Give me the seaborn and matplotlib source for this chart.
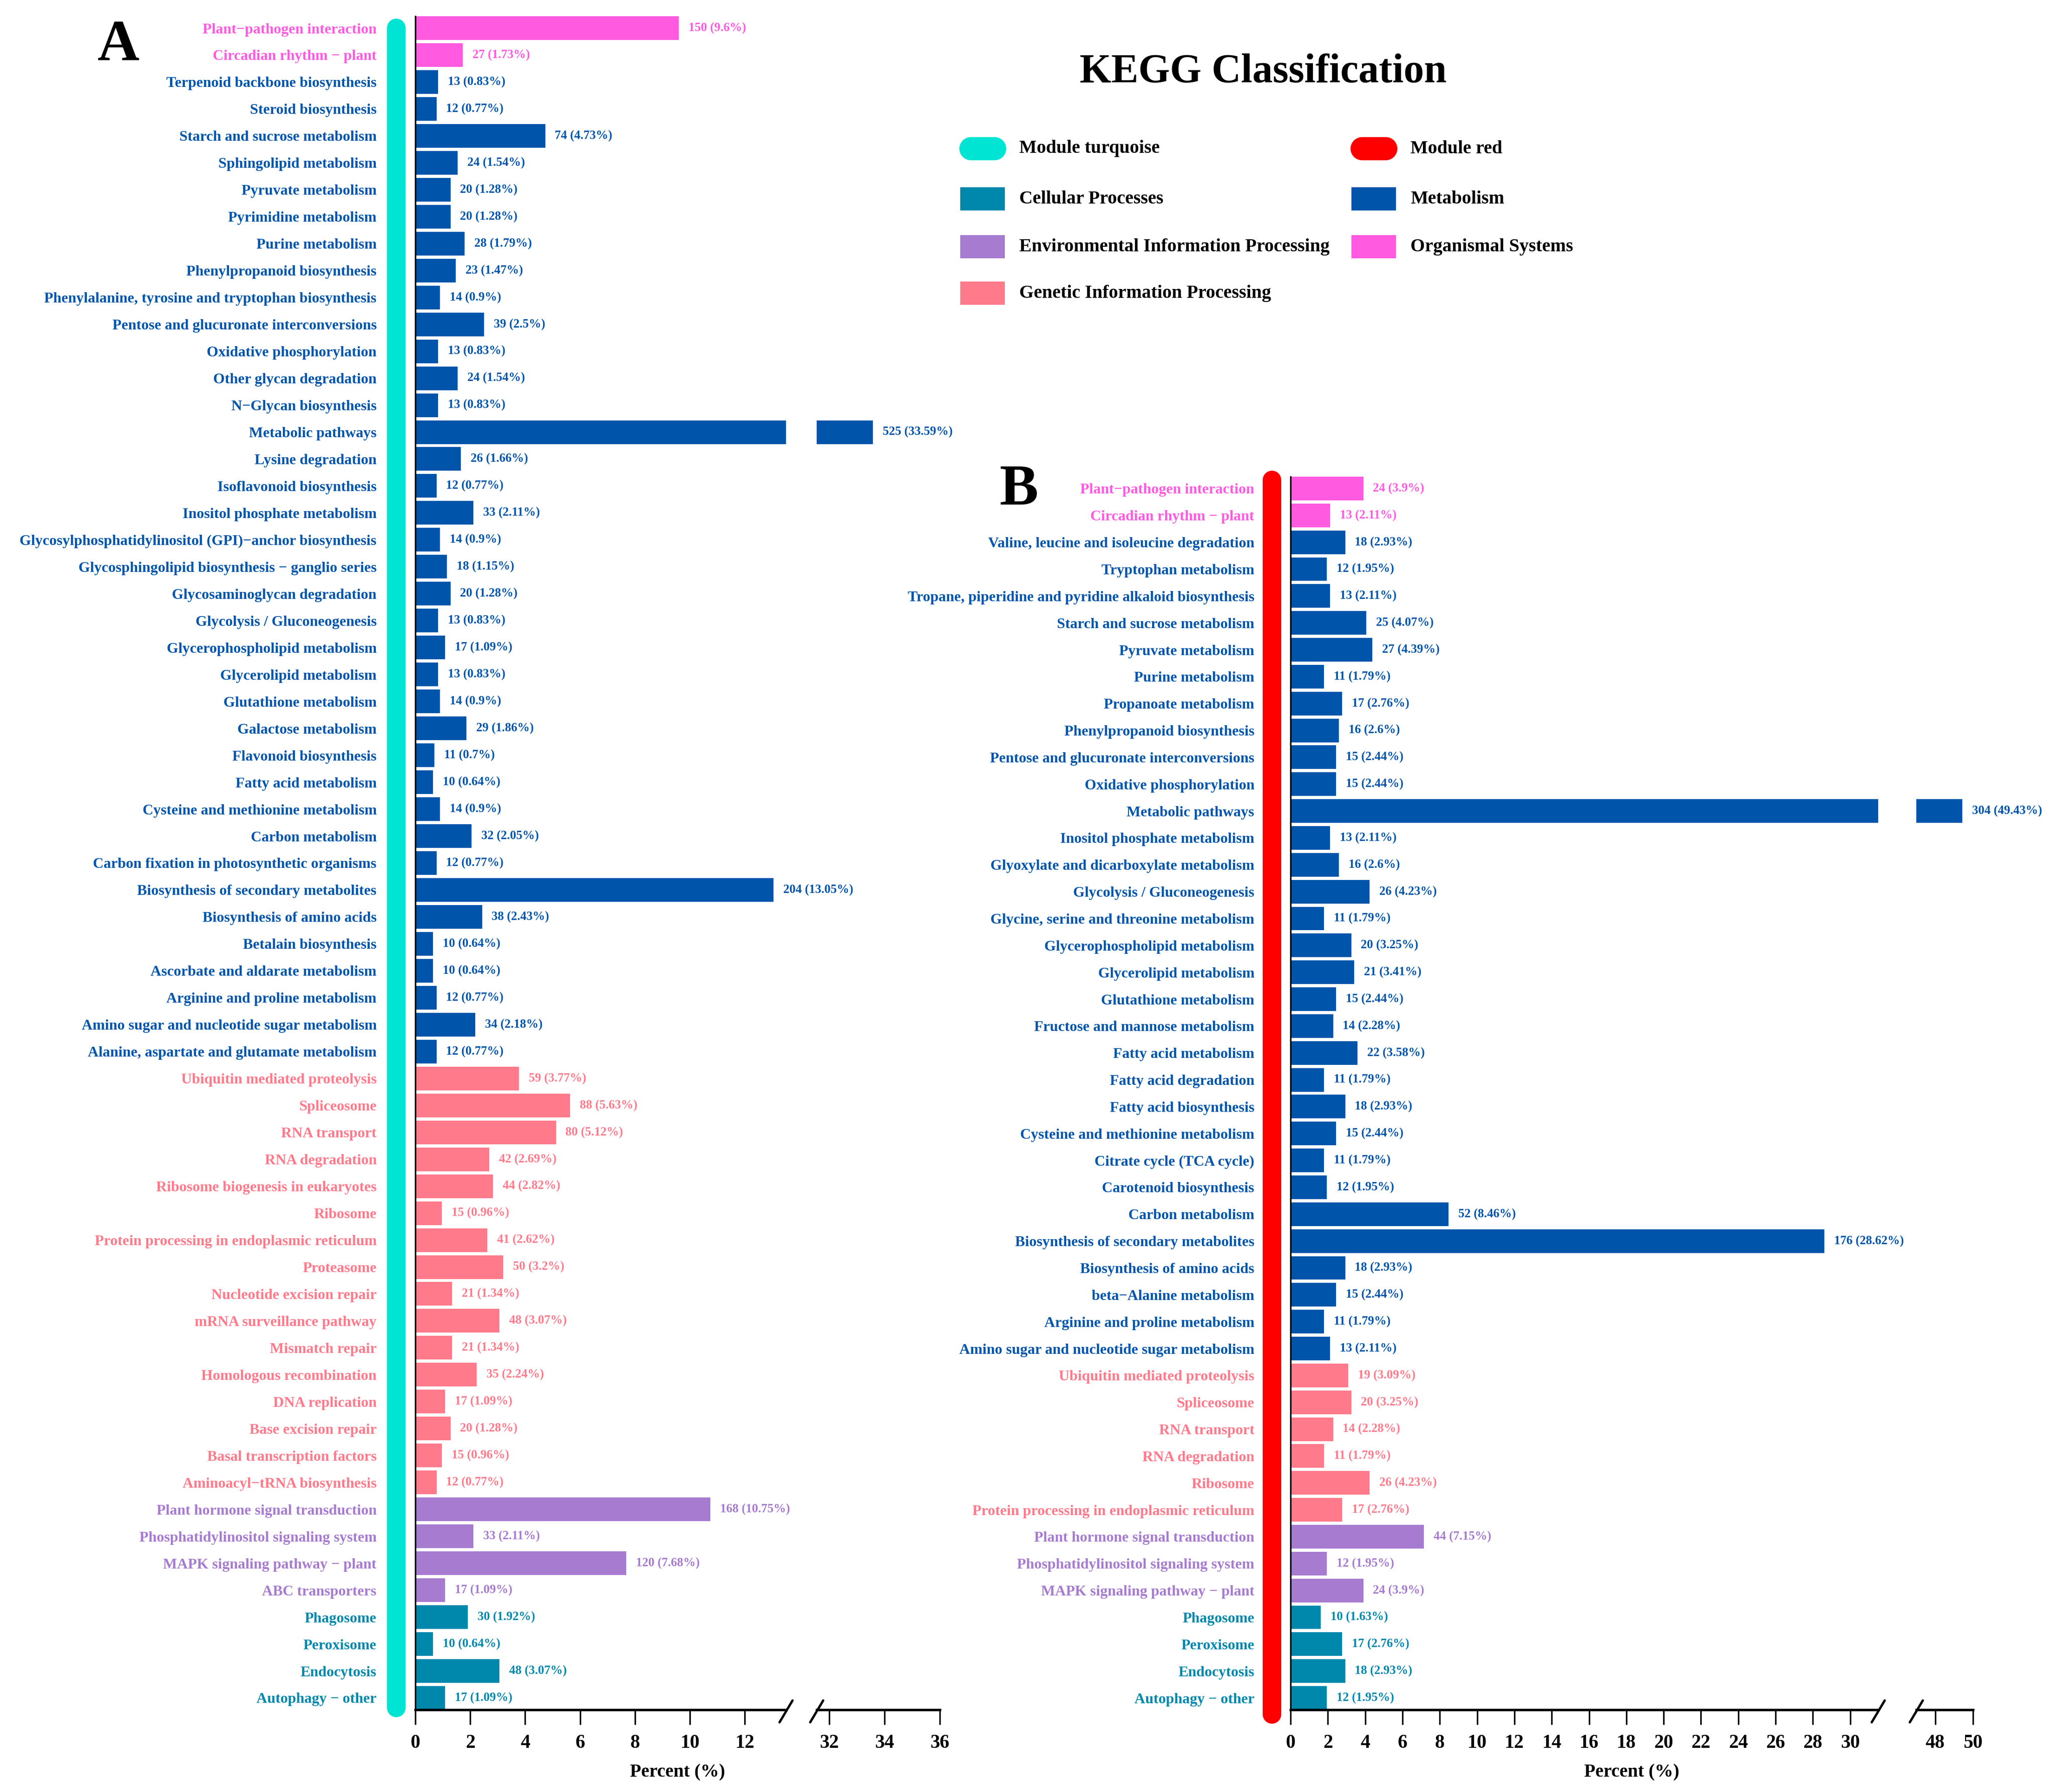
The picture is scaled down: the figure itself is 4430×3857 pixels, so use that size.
import pandas as pd
import matplotlib
matplotlib.use("Agg")
import matplotlib.pyplot as plt
from matplotlib.lines import Line2D
from matplotlib.patches import Rectangle
import seaborn as sns

# ---- panel A (module turquoise) ----
a_terms = [
    "Plant−pathogen interaction", "Circadian rhythm − plant",
    "Terpenoid backbone biosynthesis", "Steroid biosynthesis", "Starch and sucrose metabolism",
    "Sphingolipid metabolism", "Pyruvate metabolism", "Pyrimidine metabolism", "Purine metabolism",
    "Phenylpropanoid biosynthesis", "Phenylalanine, tyrosine and tryptophan biosynthesis",
    "Pentose and glucuronate interconversions", "Oxidative phosphorylation", "Other glycan degradation",
    "N−Glycan biosynthesis", "Metabolic pathways", "Lysine degradation", "Isoflavonoid biosynthesis",
    "Inositol phosphate metabolism", "Glycosylphosphatidylinositol (GPI)−anchor biosynthesis",
    "Glycosphingolipid biosynthesis − ganglio series", "Glycosaminoglycan degradation",
    "Glycolysis / Gluconeogenesis", "Glycerophospholipid metabolism", "Glycerolipid metabolism",
    "Glutathione metabolism", "Galactose metabolism", "Flavonoid biosynthesis", "Fatty acid metabolism",
    "Cysteine and methionine metabolism", "Carbon metabolism", "Carbon fixation in photosynthetic organisms",
    "Biosynthesis of secondary metabolites", "Biosynthesis of amino acids", "Betalain biosynthesis",
    "Ascorbate and aldarate metabolism", "Arginine and proline metabolism",
    "Amino sugar and nucleotide sugar metabolism", "Alanine, aspartate and glutamate metabolism",
    "Ubiquitin mediated proteolysis", "Spliceosome", "RNA transport", "RNA degradation",
    "Ribosome biogenesis in eukaryotes", "Ribosome", "Protein processing in endoplasmic reticulum",
    "Proteasome", "Nucleotide excision repair", "mRNA surveillance pathway", "Mismatch repair",
    "Homologous recombination", "DNA replication", "Base excision repair", "Basal transcription factors",
    "Aminoacyl−tRNA biosynthesis",
    "Plant hormone signal transduction", "Phosphatidylinositol signaling system",
    "MAPK signaling pathway − plant", "ABC transporters",
    "Phagosome", "Peroxisome", "Endocytosis", "Autophagy − other",
]
a_counts = [150, 27, 13, 12, 74, 24, 20, 20, 28, 23, 14, 39, 13, 24, 13, 525, 26, 12, 33, 14, 18, 20,
            13, 17, 13, 14, 29, 11, 10, 14, 32, 12, 204, 38, 10, 10, 12, 34, 12,
            59, 88, 80, 42, 44, 15, 41, 50, 21, 48, 21, 35, 17, 20, 15, 12,
            168, 33, 120, 17, 30, 10, 48, 17]
a_pct = [9.6, 1.73, 0.83, 0.77, 4.73, 1.54, 1.28, 1.28, 1.79, 1.47, 0.9, 2.5, 0.83, 1.54, 0.83, 33.59,
         1.66, 0.77, 2.11, 0.9, 1.15, 1.28, 0.83, 1.09, 0.83, 0.9, 1.86, 0.7, 0.64, 0.9, 2.05, 0.77,
         13.05, 2.43, 0.64, 0.64, 0.77, 2.18, 0.77,
         3.77, 5.63, 5.12, 2.69, 2.82, 0.96, 2.62, 3.2, 1.34, 3.07, 1.34, 2.24, 1.09, 1.28, 0.96, 0.77,
         10.75, 2.11, 7.68, 1.09, 1.92, 0.64, 3.07, 1.09]
a_class = (["Organismal Systems"] * 2 + ["Metabolism"] * 37 + ["Genetic Information Processing"] * 16
           + ["Environmental Information Processing"] * 4 + ["Cellular Processes"] * 4)

# ---- panel B (module red) ----
b_terms = [
    "Plant−pathogen interaction", "Circadian rhythm − plant",
    "Valine, leucine and isoleucine degradation", "Tryptophan metabolism",
    "Tropane, piperidine and pyridine alkaloid biosynthesis", "Starch and sucrose metabolism",
    "Pyruvate metabolism", "Purine metabolism", "Propanoate metabolism", "Phenylpropanoid biosynthesis",
    "Pentose and glucuronate interconversions", "Oxidative phosphorylation", "Metabolic pathways",
    "Inositol phosphate metabolism", "Glyoxylate and dicarboxylate metabolism",
    "Glycolysis / Gluconeogenesis", "Glycine, serine and threonine metabolism",
    "Glycerophospholipid metabolism", "Glycerolipid metabolism", "Glutathione metabolism",
    "Fructose and mannose metabolism", "Fatty acid metabolism", "Fatty acid degradation",
    "Fatty acid biosynthesis", "Cysteine and methionine metabolism", "Citrate cycle (TCA cycle)",
    "Carotenoid biosynthesis", "Carbon metabolism", "Biosynthesis of secondary metabolites",
    "Biosynthesis of amino acids", "beta−Alanine metabolism", "Arginine and proline metabolism",
    "Amino sugar and nucleotide sugar metabolism",
    "Ubiquitin mediated proteolysis", "Spliceosome", "RNA transport", "RNA degradation", "Ribosome",
    "Protein processing in endoplasmic reticulum",
    "Plant hormone signal transduction", "Phosphatidylinositol signaling system",
    "MAPK signaling pathway − plant",
    "Phagosome", "Peroxisome", "Endocytosis", "Autophagy − other",
]
b_counts = [24, 13, 18, 12, 13, 25, 27, 11, 17, 16, 15, 15, 304, 13, 16, 26, 11, 20, 21, 15, 14, 22,
            11, 18, 15, 11, 12, 52, 176, 18, 15, 11, 13,
            19, 20, 14, 11, 26, 17, 44, 12, 24, 10, 17, 18, 12]
b_pct = [3.9, 2.11, 2.93, 1.95, 2.11, 4.07, 4.39, 1.79, 2.76, 2.6, 2.44, 2.44, 49.43, 2.11, 2.6, 4.23,
         1.79, 3.25, 3.41, 2.44, 2.28, 3.58, 1.79, 2.93, 2.44, 1.79, 1.95, 8.46, 28.62, 2.93, 2.44,
         1.79, 2.11, 3.09, 3.25, 2.28, 1.79, 4.23, 2.76, 7.15, 1.95, 3.9, 1.63, 2.76, 2.93, 1.95]
b_class = (["Organismal Systems"] * 2 + ["Metabolism"] * 31 + ["Genetic Information Processing"] * 6
           + ["Environmental Information Processing"] * 3 + ["Cellular Processes"] * 4)

class_colors = {
    "Cellular Processes": "#0088AC",
    "Environmental Information Processing": "#A67BD0",
    "Genetic Information Processing": "#FF7A8B",
    "Metabolism": "#0055AB",
    "Organismal Systems": "#FF5AE0",
}
module_colors = {"Module turquoise": "#00E5D3", "Module red": "#FF0000"}

legend_labels = ["Module turquoise", "Cellular Processes", "Environmental Information Processing",
                 "Genetic Information Processing", "Module red", "Metabolism", "Organismal Systems"]

W, H = 4430, 3857
sns.set_theme(style="white")
plt.rcParams["font.family"] = ["Liberation Serif", "DejaVu Serif"]
plt.rcParams["font.weight"] = "bold"
plt.rcParams["text.color"] = "black"
plt.rcParams["xtick.color"] = "black"

fig = plt.figure(figsize=(W / 300, H / 300), dpi=300)


def fx(x):
    return x / W


def fy(y):
    return 1 - y / H


def add_ax(x0, x1, y0, y1):
    return fig.add_axes([fx(x0), fy(y1), (x1 - x0) / W, (y1 - y0) / H])


def draw_panel(terms, counts, pct, cls, xs, y0, y1, lim_l, lim_r, ticks_l, ticks_r, pad):
    df = pd.DataFrame({"term": terms, "count": counts, "pct": pct, "cls": cls})
    n = len(df)
    axl = add_ax(xs[0], xs[1], y0, y1)
    axr = add_ax(xs[2], xs[3], y0, y1)
    for ax, lim in ((axl, lim_l), (axr, lim_r)):
        sns.barplot(data=df, x="pct", y="term", hue="cls", palette=class_colors, order=terms,
                    dodge=False, width=0.88, saturation=1, linewidth=0, legend=False, ax=ax, orient="h")
        ax.set_xlim(*lim)
        ax.set_ylim(n - 1 + 0.44, -0.44)
        ax.set_xlabel("")
        ax.set_ylabel("")
        ax.set_facecolor("none")
        for s in ("top", "right", "left"):
            ax.spines[s].set_visible(False)
        ax.spines["bottom"].set_linewidth(1.3)
        ax.spines["bottom"].set_color("black")
        ax.tick_params(axis="x", bottom=True, direction="out", length=7.7, width=0.8,
                       labelsize=10, pad=5, colors="black")
    axl.set_xticks(ticks_l)
    axr.set_xticks(ticks_r)
    axl.spines["left"].set_visible(True)
    axl.spines["left"].set_linewidth(0.8)
    axl.spines["left"].set_color("black")
    axl.set_yticks(range(n))
    axl.set_yticklabels(terms, fontsize=7.7)
    axl.tick_params(axis="y", left=False, length=0, pad=pad)
    for lab, c in zip(axl.get_yticklabels(), cls):
        lab.set_color(class_colors[c])
    axr.set_yticks([])

    for i, row in df.iterrows():
        ax = axr if row["pct"] > lim_l[1] else axl
        ax.annotate(f"{row['count']} ({row['pct']}%)", (row["pct"], i), xytext=(5, 0),
                    textcoords="offset points", va="center", ha="left", fontsize=6.4,
                    color=class_colors[row["cls"]], annotation_clip=False)

    # axis break marks
    yb = y1
    for xb in (xs[1], xs[2]):
        fig.add_artist(Line2D([fx(xb - 14), fx(xb + 14)], [fy(yb + 27), fy(yb - 20)],
                              transform=fig.transFigure, color="black", lw=1.2))
    fig.text(fx((xs[0] + xs[3]) / 2), fy(3815), "Percent (%)", ha="center", va="center", fontsize=9.5)


# panel A
draw_panel(a_terms, a_counts, a_pct, a_class, (894, 1692, 1758, 2023), 35, 3680,
           (0, 13.5), (31.55, 36), list(range(0, 13, 2)), [32, 34, 36], 20)
# panel B
draw_panel(b_terms, b_counts, b_pct, b_class, (2778, 4043, 4125, 4247), 1026, 3680,
           (0, 31.5), (47.0, 50), list(range(0, 31, 2)), [48, 50], 18.7)

# module strips
fig.add_artist(Line2D([fx(853), fx(853)], [fy(60), fy(3676)], transform=fig.transFigure,
                      color=module_colors["Module turquoise"], lw=9.6, solid_capstyle="round"))
fig.add_artist(Line2D([fx(2738), fx(2738)], [fy(1033), fy(3690)], transform=fig.transFigure,
                      color=module_colors["Module red"], lw=9.6, solid_capstyle="round"))

# panel letters and title
fig.text(fx(255), fy(100), "A", ha="center", va="center", fontsize=30)
fig.text(fx(2194), fy(1056), "B", ha="center", va="center", fontsize=30)
fig.text(fx(2719), fy(155), "KEGG Classification", ha="center", va="center", fontsize=21)

# legend
row_y = [320, 428, 531, 631]
col_x = [2065, 2907]
text_x = [2194, 3036]
for i, lab in enumerate(legend_labels):
    col, row = (0, i) if i < 4 else (1, i - 4)
    y = row_y[row]
    if lab in module_colors:
        fig.add_artist(Line2D([fx(col_x[col] + 25), fx(col_x[col] + 76)], [fy(y), fy(y)],
                              transform=fig.transFigure, color=module_colors[lab], lw=12,
                              solid_capstyle="round"))
    else:
        fig.add_artist(Rectangle((fx(col_x[col] + 2), fy(y + 25)), 96 / W, 50 / H,
                                 transform=fig.transFigure, color=class_colors[lab], lw=0))
    fig.text(fx(text_x[col]), fy(y), lab, ha="left", va="center", fontsize=9.6)

fig.savefig("out.png", dpi=300)
